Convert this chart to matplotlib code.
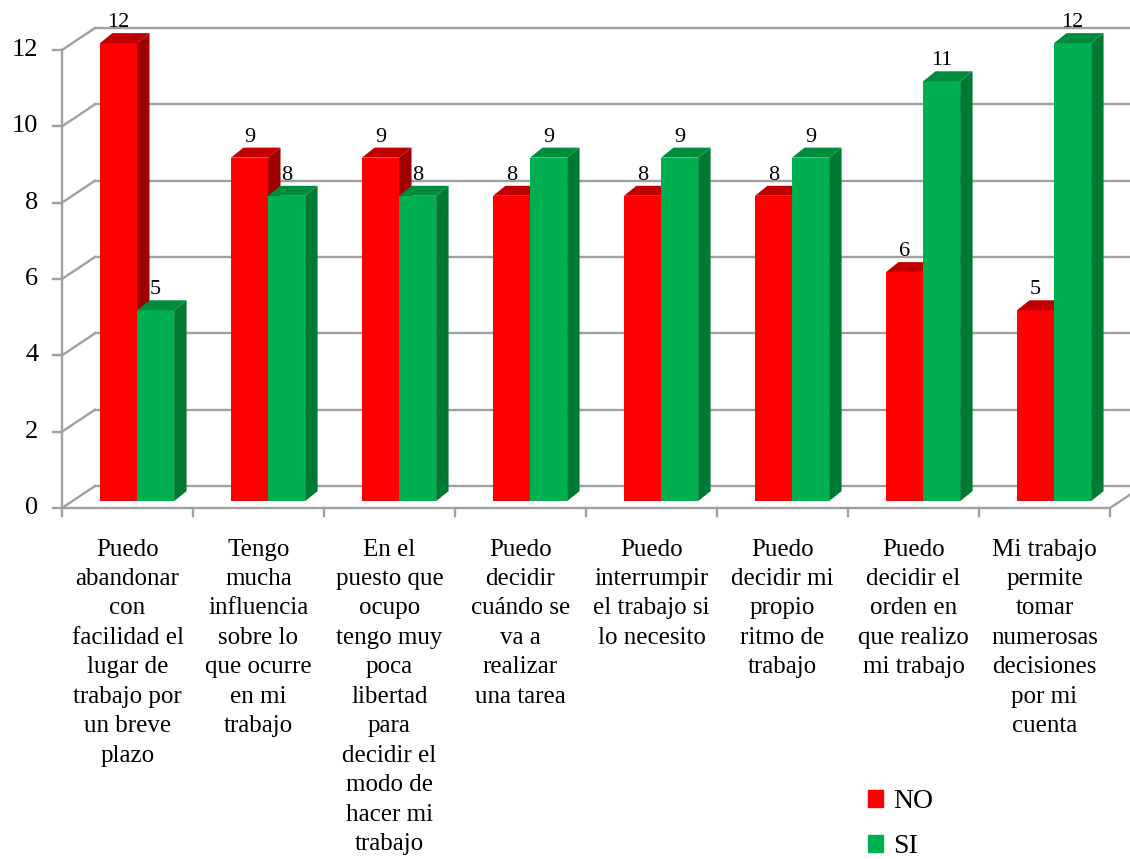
import matplotlib.pyplot as plt
from matplotlib.patches import Polygon, Patch

categorias = [
    "Puedo\nabandonar\ncon\nfacilidad el\nlugar de\ntrabajo por\nun breve\nplazo",
    "Tengo\nmucha\ninfluencia\nsobre lo\nque ocurre\nen mi\ntrabajo",
    "En el\npuesto que\nocupo\ntengo muy\npoca\nlibertad\npara\ndecidir el\nmodo de\nhacer mi\ntrabajo",
    "Puedo\ndecidir\ncuándo se\nva a\nrealizar\nuna tarea",
    "Puedo\ninterrumpir\nel trabajo si\nlo necesito",
    "Puedo\ndecidir mi\npropio\nritmo de\ntrabajo",
    "Puedo\ndecidir el\norden en\nque realizo\nmi trabajo",
    "Mi trabajo\npermite\ntomar\nnumerosas\ndecisiones\npor mi\ncuenta",
]
no_vals = [12, 9, 9, 8, 8, 8, 6, 5]
si_vals = [5, 8, 8, 9, 9, 9, 11, 12]
yticks = [0, 2, 4, 6, 8, 10, 12]

plt.rcParams['font.family'] = ['Liberation Serif', 'DejaVu Serif']

fig = plt.figure(figsize=(11.3, 8.59), dpi=100)
ax = fig.add_axes([62 / 1130, 351 / 859, 1048 / 1130, 458 / 859])
ax.set_xlim(0, 8)
ax.set_ylim(0, 12)
ax.axis('off')

grid_c = '#a0a0a0'
# pared del fondo desplazada (efecto 3D)
wx, wy = 0.252, 0.576
# profundidad de las barras
bx, by = 0.095, 0.262
b0 = 0.18
bw = 0.283
off = 0.29

for v in yticks:
    ax.plot([wx, 8 + wx], [v + wy, v + wy], color=grid_c, lw=1.7, clip_on=False, zorder=1)
    ax.plot([0, wx], [v, v + wy], color=grid_c, lw=1.7, clip_on=False, zorder=1)
    ax.plot([-0.07, 0], [v, v], color=grid_c, lw=1.7, clip_on=False, zorder=1)
    ax.text(-0.18, v, str(v), ha='right', va='center', fontsize=19)
ax.plot([0, 0], [0, 12], color=grid_c, lw=1.7, clip_on=False, zorder=1)
ax.plot([0, 8, 8 + wx], [0, 0, wy], color=grid_c, lw=1.7, clip_on=False, zorder=1)
for k in range(9):
    ax.plot([k, k], [0, -0.22], color=grid_c, lw=1.7, clip_on=False, zorder=1)


def barra3d(left, val, front, side, top, z):
    T = b0 + val
    ax.bar(left, val, bw, bottom=b0, align='edge', color=front, zorder=z, clip_on=False)
    ax.add_patch(Polygon([(left + bw, b0), (left + bw + bx, b0 + by),
                          (left + bw + bx, T + by), (left + bw, T)],
                         closed=True, facecolor=side, edgecolor='none', zorder=z,
                         clip_on=False))
    ax.add_patch(Polygon([(left, T), (left + bw, T), (left + bw + bx, T + by),
                          (left + bx, T + by)],
                         closed=True, facecolor=top, edgecolor='none', zorder=z,
                         clip_on=False))
    ax.text(left + bw / 2, T + 0.42, str(val), ha='center', va='baseline',
            fontsize=16, zorder=10)


z = 2
for k in range(len(categorias)):
    barra3d(k + off, no_vals[k], '#ff0000', '#a00000', '#c00000', z)
    z += 1
    barra3d(k + off + bw, si_vals[k], '#00b050', '#007a33', '#008c3e', z)
    z += 1
    ax.text(k + 0.5, -0.8, categorias[k], ha='center', va='top', fontsize=18,
            linespacing=1.44)

fig.legend(handles=[Patch(color='#ff0000', label='NO'), Patch(color='#00b050', label='SI')],
           loc='upper left', bbox_to_anchor=(843 / 1130, 1 - 764 / 859), frameon=False,
           fontsize=20, handlelength=0.55, handleheight=0.55, handletextpad=0.35,
           labelspacing=0.72)

fig.savefig('out.png', dpi=100)
